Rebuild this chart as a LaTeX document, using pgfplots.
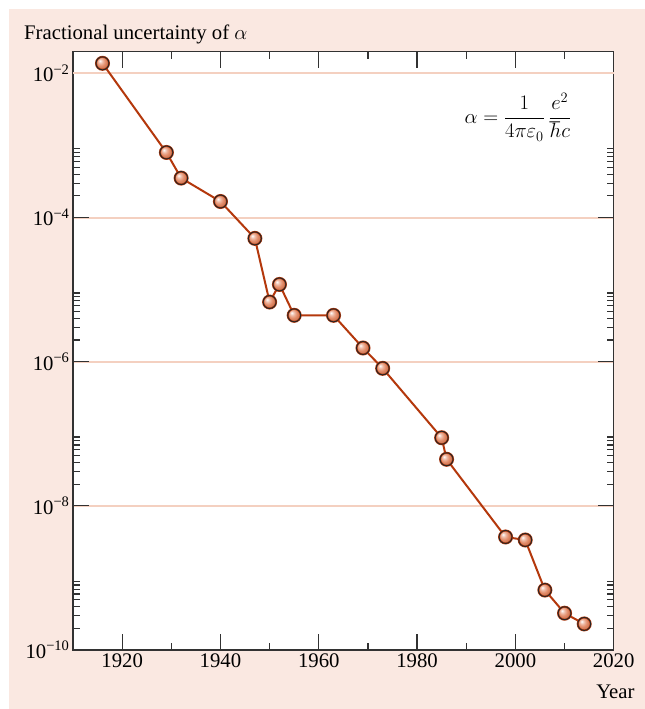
\documentclass[border=0pt]{standalone}
\usepackage{fontspec}
\setmainfont{Liberation Serif}
\usepackage{pgfplots}
\pgfplotsset{compat=1.18}
\definecolor{bgpink}{RGB}{250,232,225}
\definecolor{gridpink}{RGB}{244,208,192}
\definecolor{linered}{RGB}{180,56,12}
\definecolor{balc}{RGB}{226,136,100}
\definecolor{axisgray}{RGB}{50,50,50}
\makeatletter
\pgfdeclareradialshading[tikz@ball]{ball}{\pgfqpoint{-10bp}{10bp}}{%
 color(0bp)=(tikz@ball!0!white);
 color(8bp)=(tikz@ball!55!white);
 color(18bp)=(tikz@ball);
 color(26bp)=(tikz@ball!88!black);
 color(50bp)=(tikz@ball!70!black)}
\makeatother
\begin{document}
\begin{tikzpicture}[font=\fontsize{20.74bp}{24bp}\selectfont]
\useasboundingbox (-73bp,-59bp) rectangle (572bp,650bp);
\fill[bgpink] (-64bp,-59bp) rectangle (572bp,641bp);
\begin{axis}[
  at={(0,0)}, anchor=south west,
  scale only axis, width=540.7bp, height=598.3bp,
  xmin=1910, xmax=2020, ymode=log, ymin=1e-10, ymax=2e-2,
  axis background/.style={fill=white},
  axis line style={draw=axisgray, line width=1.2bp},
  xtick={1920,1940,1960,1980,2000,2020},
  xticklabels={1920,1940,1960,1980,2000,2020},
  minor xtick={1930,1950,1970,1990,2010},
  ytick={1e-10,1e-8,1e-6,1e-4},
  yticklabels={10\textsuperscript{−10},10\textsuperscript{−8},10\textsuperscript{−6},10\textsuperscript{−4}},
  extra y ticks={1e-2},
  extra y tick labels={10\textsuperscript{−2}},
  extra y tick style={grid=major, major tick length=0pt},
  minor ytick={2e-10,3e-10,4e-10,5e-10,6e-10,7e-10,8e-10,9e-10,
               2e-8,3e-8,4e-8,5e-8,6e-8,7e-8,8e-8,9e-8,
               2e-6,3e-6,4e-6,5e-6,6e-6,7e-6,8e-6,9e-6,
               2e-4,3e-4,4e-4,5e-4,6e-4,7e-4,8e-4,9e-4},
  tick align=inside,
  major tick length=16bp, minor tick length=7bp,
  tick style={draw=axisgray, line width=1.2bp},
  ymajorgrids,
  grid style={draw=gridpink, line width=2bp},
  major grid style={draw=gridpink, line width=2bp},
  xlabel={Year},
  xlabel style={at={(rel axis cs:1,0)}, anchor=base east, inner sep=0pt, xshift=21bp, yshift=-48bp},
  clip=false,
]
\addplot[draw=linered, line width=2bp, mark=ball, mark size=6.5bp, mark options={ball color=balc}] table {
x y
1916 1.38e-2
1929 8.0e-4
1932 3.53e-4
1940 1.67e-4
1947 5.14e-5
1950 6.73e-6
1952 1.18e-5
1955 4.40e-6
1963 4.40e-6
1969 1.55e-6
1973 8.09e-7
1985 8.81e-8
1986 4.43e-8
1998 3.70e-9
2002 3.36e-9
2006 6.79e-10
2010 3.24e-10
2014 2.30e-10
};
\addplot[only marks, mark=o, mark size=6.5bp, mark options={draw=black!85, line width=0.9bp}] table {
x y
1916 1.38e-2
1929 8.0e-4
1932 3.53e-4
1940 1.67e-4
1947 5.14e-5
1950 6.73e-6
1952 1.18e-5
1955 4.40e-6
1963 4.40e-6
1969 1.55e-6
1973 8.09e-7
1985 8.81e-8
1986 4.43e-8
1998 3.70e-9
2002 3.36e-9
2006 6.79e-10
2010 3.24e-10
2014 2.30e-10
};
\node at (axis cs:2000.5,2.48e-3) {$\displaystyle \alpha = \frac{1}{4\pi\varepsilon_0}\,\frac{e^2}{\hbar c}$};
\end{axis}
\node[anchor=base west, inner sep=0pt] at (-49bp,610bp) {Fractional uncertainty of $\alpha$};
\end{tikzpicture}
\end{document}
